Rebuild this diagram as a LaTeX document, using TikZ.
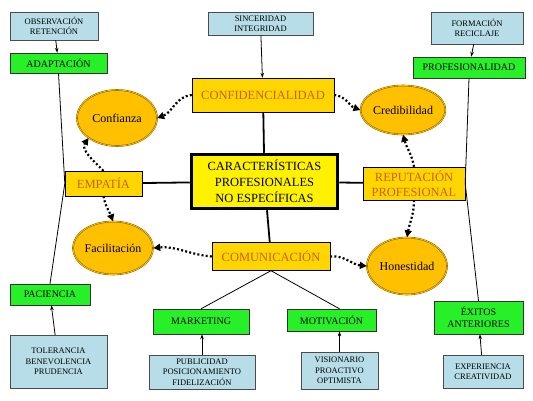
\documentclass[tikz,border=0pt]{standalone}
\usepackage{fontspec}
\setmainfont{Liberation Serif}
\usetikzlibrary{shapes.geometric,arrows.meta}

\definecolor{infoblue}{RGB}{183,221,232}
\definecolor{skillgreen}{RGB}{40,240,40}
\definecolor{keyyellow}{RGB}{255,214,0}
\definecolor{keytext}{RGB}{205,95,0}
\definecolor{traitfill}{RGB}{255,192,0}
\definecolor{traitline}{RGB}{110,80,10}

\begin{document}
\begin{tikzpicture}[x=1pt,y=-1pt,
  infobox/.style={draw=black!70,fill=infoblue,align=center,inner sep=1pt,
    font=\rmfamily\fontsize{8.5}{10.5}\selectfont},
  skillbox/.style={draw=black!80,fill=skillgreen,align=center,inner sep=1pt,
    font=\rmfamily\fontsize{10}{12}\selectfont},
  keybox/.style={draw=black,fill=keyyellow,text=keytext,align=center,inner sep=1pt,
    font=\rmfamily\fontsize{12.5}{15}\selectfont},
  trait/.style={ellipse,draw=traitline,double=traitfill,double distance=0.8pt,
    fill=traitfill,inner sep=0pt,font=\rmfamily\fontsize{12}{13}\selectfont},
  link/.style={-{Stealth[length=5pt,width=3.5pt]},line width=0.8pt},
  dots/.style={line width=2.2pt,dash pattern=on 2pt off 2.2pt,
    -{Triangle[length=7pt,width=7pt]}},
  branch/.style={line width=1.8pt}]

\useasboundingbox (0,0) rectangle (533,400);

% centre
\node[draw=black,line width=3.5pt,fill=yellow,align=center,minimum width=146pt,
  minimum height=54pt,font=\rmfamily\fontsize{12.5}{16}\selectfont] (core) at (264.5,181.5)
  {CARACTERÍSTICAS\\PROFESIONALES\\NO ESPECÍFICAS};

% main blocks
\node[keybox,minimum width=142pt,minimum height=34pt] (confid) at (263,95) {CONFIDENCIALIDAD};
\node[keybox,minimum width=77pt,minimum height=25pt] (empatia) at (103.5,183.5) {EMPATÍA};
\node[keybox,minimum width=102pt,minimum height=33pt] (reput) at (414,183.5) {REPUTACIÓN\\PROFESIONAL};
\node[keybox,minimum width=118pt,minimum height=28pt] (comun) at (271,256.5) {COMUNICACIÓN};

% ellipses
\node[trait,minimum width=80pt,minimum height=56pt] (confianza) at (117,118) {Confianza};
\node[trait,minimum width=80pt,minimum height=49pt] (credib) at (403,110) {Credibilidad};
\node[trait,minimum width=80pt,minimum height=53pt] (facil) at (113,248) {Facilitación};
\node[trait,minimum width=80pt,minimum height=57pt] (honest) at (407,266) {Honestidad};

% left column
\node[infobox,minimum width=88pt,minimum height=28pt] (observ) at (54,26) {OBSERVACIÓN\\RETENCIÓN};
\node[skillbox,minimum width=97pt,minimum height=20pt] (adapt) at (58.5,63) {ADAPTACIÓN};
\node[skillbox,minimum width=80pt,minimum height=21pt] (pacien) at (50,294.5) {PACIENCIA};
\node[infobox,minimum width=97pt,minimum height=53pt] (toler) at (58.5,361.5) {TOLERANCIA\\BENEVOLENCIA\\PRUDENCIA};

% top
\node[infobox,minimum width=105pt,minimum height=23pt] (sincer) at (260.5,23.5) {SINCERIDAD\\INTEGRIDAD};

% right column
\node[infobox,minimum width=92pt,minimum height=32pt] (formac) at (477,28) {FORMACIÓN\\RECICLAJE};
\node[skillbox,minimum width=112pt,minimum height=21pt] (profes) at (469,67.5) {PROFESIONALIDAD};
\node[skillbox,minimum width=89pt,minimum height=33pt] (exitos) at (478.5,317.5) {ÉXITOS\\ANTERIORES};
\node[infobox,minimum width=80pt,minimum height=33pt] (exper) at (483,371.5) {EXPERIENCIA\\CREATIVIDAD};

% bottom
\node[skillbox,minimum width=96pt,minimum height=25pt] (market) at (201,321.5) {MARKETING};
\node[skillbox,minimum width=89pt,minimum height=22pt] (motiv) at (331.5,320) {MOTIVACIÓN};
\node[infobox,minimum width=106pt,minimum height=34pt] (public) at (202,372) {PUBLICIDAD\\POSICIONAMIENTO\\FIDELIZACIÓN};
\node[infobox,minimum width=77pt,minimum height=37pt] (vision) at (339.5,370.5) {VISIONARIO\\PROACTIVO\\OPTIMISTA};

% branches from the centre
\draw[branch] (confid) -- (core);
\draw[branch] (core) -- (empatia);
\draw[branch] (core) -- (reput);
\draw[branch] (core) -- (comun);

% side lines
\draw[line width=0.8pt] (adapt.south) -- (empatia.west) -- (pacien.north);
\draw[line width=0.8pt] (profes.south) -- (reput.east) -- (exitos.north);
\draw[line width=0.8pt] (comun.south) -- (market.north);
\draw[line width=0.8pt] (comun.south) -- (vision.north |- motiv.north);

% arrows into the boxes
\draw[link] (observ) -- (adapt);
\draw[link] (sincer) -- (confid);
\draw[link] (formac) -- (profes);
\draw[link] (toler) -- (pacien);
\draw[link] (exper) -- (exitos);
\draw[link] (public.north) -- (public.north |- market.south);
\draw[link] (vision.north) -- (vision.north |- motiv.south);

% dotted arrows
\draw[dots] (confid.west) to[out=185,in=20] (confianza.east);
\draw[dots] (confid.east) to[out=-5,in=160] (credib.west);
\draw[dots] (empatia.north) to[out=135,in=235] (confianza.south west);
\draw[dots] (empatia.south) to[out=-80,in=110] (facil.north);
\draw[dots] (comun.west) to[out=175,in=5] (facil.east);
\draw[dots] (comun.east) to[out=5,in=175] (honest.west);
\draw[dots] (reput.north) to[out=100,in=-75] (credib.south);
\draw[dots] (reput.south) to[out=-90,in=80] (honest.north);

\end{tikzpicture}
\end{document}
